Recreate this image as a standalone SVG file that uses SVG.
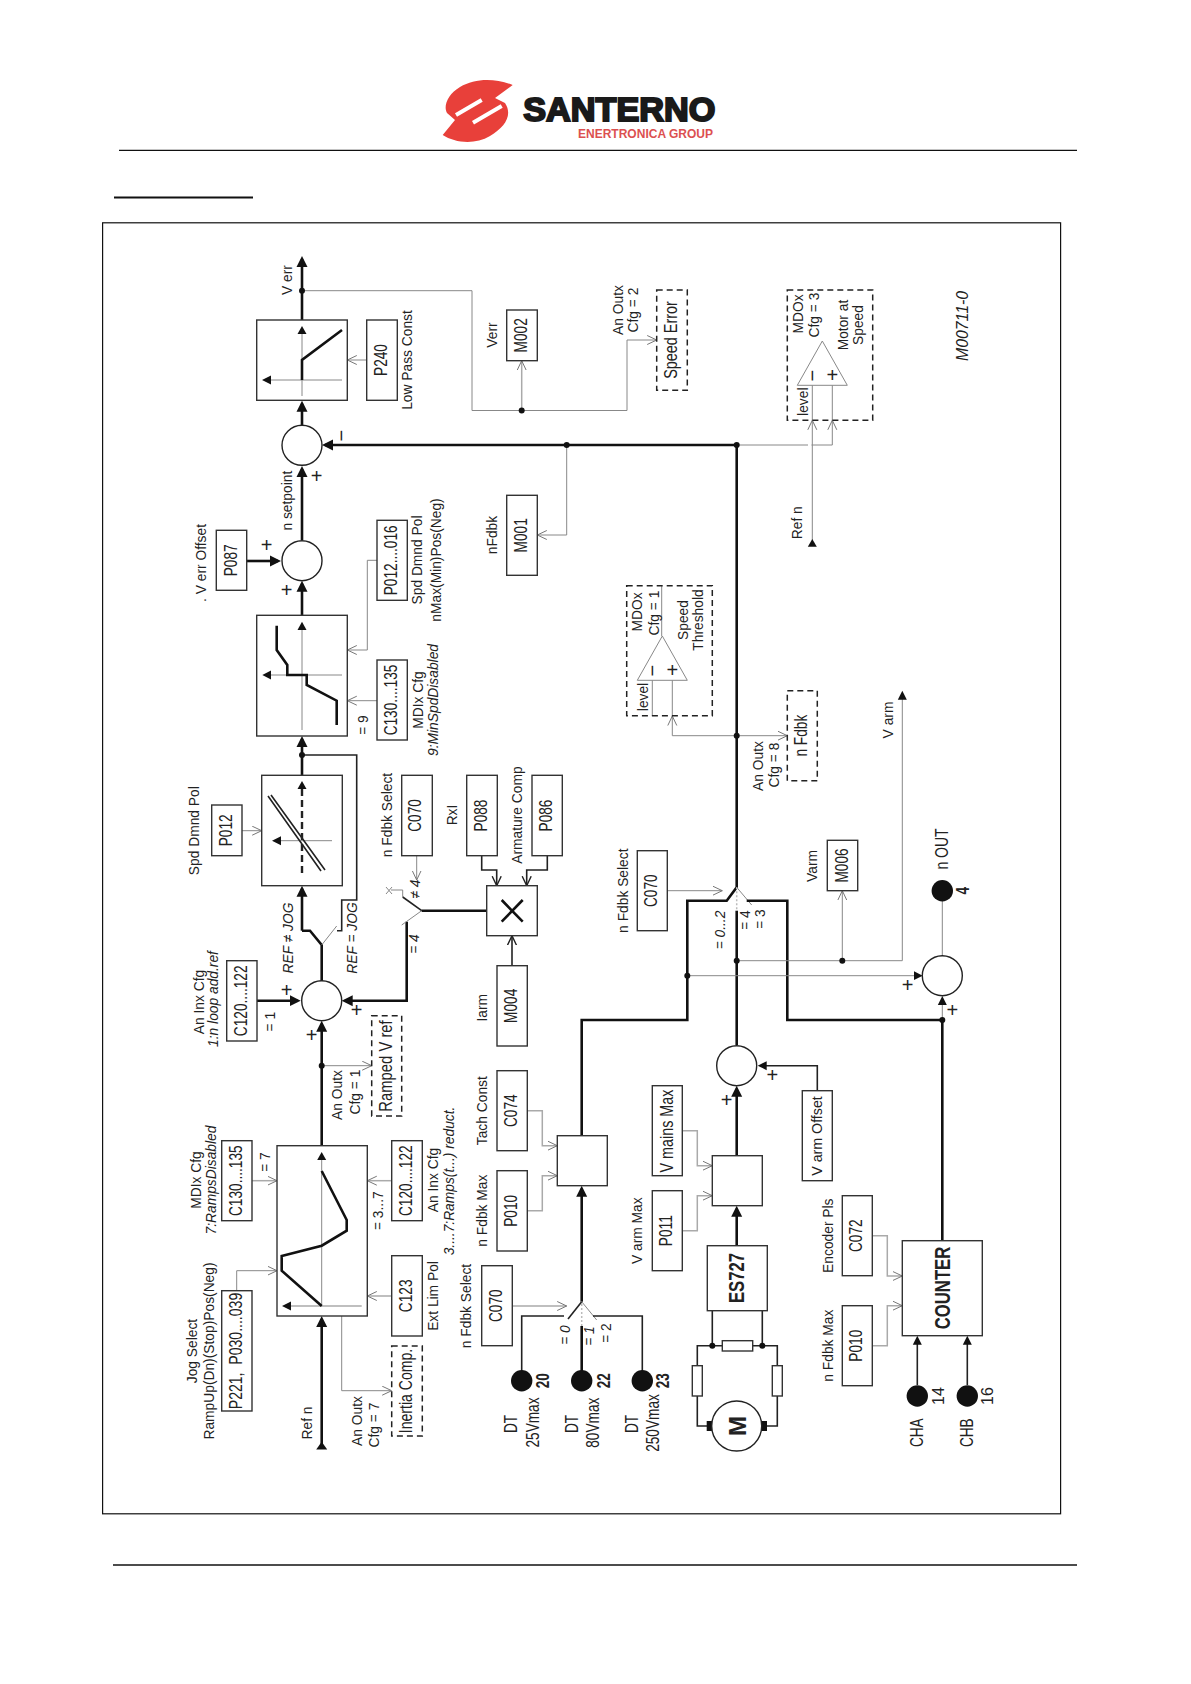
<svg xmlns="http://www.w3.org/2000/svg" width="1191" height="1684" viewBox="0 0 1191 1684">
<style>
text{font-family:"Liberation Sans",Arial,sans-serif;text-anchor:middle;fill:#222}
.l{font-size:15px}
.L{font-size:17.5px}
.v{font-size:18.5px}
.i{font-size:15px;font-style:italic}
.n{font-size:18px;font-weight:bold}
.h{font-size:22px;font-weight:bold}
.p{font-size:20px}
.box{fill:#fff;stroke:#333;stroke-width:1.4}
.dash{fill:#fff;stroke:#222;stroke-width:1.5;stroke-dasharray:6 4}
.sum{fill:#fff;stroke:#222;stroke-width:1.4}
.dot{fill:#111}
.tri{fill:#111}
path{fill:none}
.t{stroke:#111;stroke-width:2.6}
.m{stroke:#222;stroke-width:1.6}
.g{stroke:#888;stroke-width:1}
.g2{stroke:#aaa;stroke-width:1.5}
.d{stroke:#bbb;stroke-width:1.5;stroke-dasharray:2 2}
.rule{stroke:#111;stroke-width:1.4}
</style>
<defs>
<marker id="a" markerUnits="userSpaceOnUse" markerWidth="12" markerHeight="12" refX="8" refY="6" orient="auto"><path d="M0,0.5L11,6L0,11.5Z" style="fill:#111"/></marker>
<marker id="s" markerUnits="userSpaceOnUse" markerWidth="10" markerHeight="10" refX="6" refY="5" orient="auto"><path d="M0,0.5L9,5L0,9.5Z" style="fill:#111"/></marker>
<marker id="o" markerUnits="userSpaceOnUse" markerWidth="11" markerHeight="11" refX="9.5" refY="5" orient="auto"><path d="M0,0.5L9.5,5L0,9.5" style="fill:none;stroke:#777;stroke-width:1"/></marker>
<marker id="k" markerUnits="userSpaceOnUse" markerWidth="11" markerHeight="11" refX="9.5" refY="5" orient="auto"><path d="M0,0.5L9.5,5L0,9.5" style="fill:none;stroke:#222;stroke-width:1.4"/></marker>
</defs>
<rect width="1191" height="1684" fill="#fff"/>
<g id="page">
<line x1="119" y1="150.4" x2="1077" y2="150.4" class="rule"/>
<line x1="114" y1="197.6" x2="253" y2="197.6" stroke="#111" stroke-width="2"/>
<rect x="102.6" y="222.8" width="958" height="1291" fill="none" stroke="#111" stroke-width="1.2"/>
<line x1="113" y1="1565" x2="1077" y2="1565" class="rule"/>
</g>
<g id="logo">
<path d="M512.7,85C495,78 475,78 460,87C448,94 443,106 447,113L455,120L442.7,135C455,143 475,145 490,136C505,127 513,115 505,103L495,98Z" style="fill:#e8403a"/>
<path d="M456,115L481.7,100M473,122.7L501.7,106" style="stroke:#fff;stroke-width:4"/>
<text x="619.3" y="120.7" font-size="33" font-weight="bold" textLength="192" lengthAdjust="spacingAndGlyphs" style="fill:#1a1a1a;stroke:#1a1a1a;stroke-width:2">SANTERNO</text>
<text x="645.5" y="138.3" font-size="13" font-weight="bold" textLength="135" lengthAdjust="spacingAndGlyphs" style="fill:#dc5050">ENERTRONICA GROUP</text>
</g>
<g id="connectors">
<path class="t" d="M302,320V259" marker-end="url(#a)"/>
<path class="t" d="M302,425V403.7" marker-end="url(#a)"/>
<path class="t" d="M736.7,445H325" marker-end="url(#a)"/>
<path class="t" d="M302,540V469" marker-end="url(#a)"/>
<path class="t" d="M246.7,561H278" marker-end="url(#a)"/>
<path class="t" d="M302,615.3V583.7" marker-end="url(#a)"/>
<path class="t" d="M302,775V739" marker-end="url(#a)"/>
<path class="m" d="M302,755H356.7V900H341.7V930.7H337"/>
<path class="t" d="M302,930.7V888.7" marker-end="url(#a)"/>
<path class="t" d="M302,930.7H310L321.7,945V981"/>
<path class="g" d="M336.7,926L321.7,945"/>
<path class="t" d="M257,1000.7H297.7" marker-end="url(#a)"/>
<path class="t" d="M406.7,921.7V1000.7H344.7" marker-end="url(#a)"/>
<path class="g" d="M401.7,925L421.7,910.7"/>
<path class="t" d="M421.7,910.7H486.7"/>
<path class="m" d="M421.7,910.7L402.7,897"/>
<path class="g" d="M402.7,897V890H391M386,887L392,894M392,887L386,894"/>
<path class="g" d="M416.7,855.7V880" marker-end="url(#o)"/>
<path class="m" d="M481.7,855.7V870H496.7V885.7" marker-end="url(#k)"/>
<path class="m" d="M547.3,855.7V870H526.7V885.7" marker-end="url(#k)"/>
<path class="m" d="M512,965.7V935.7" marker-end="url(#k)"/>
<path class="t" d="M321.7,1146V1023.7" marker-end="url(#a)"/>
<path class="g" d="M321.7,1065.7H371.7" marker-end="url(#o)"/>
<path class="t" d="M321.7,1449V1319" marker-end="url(#a)"/>
<path class="g2" d="M252,1180.7H277" marker-end="url(#o)"/>
<path class="g2" d="M391.7,1180.7H367.3" marker-end="url(#o)"/>
<path class="g2" d="M391.7,1296H367.3" marker-end="url(#o)"/>
<path class="g" d="M236.7,1290.7V1270.7H277" marker-end="url(#o)"/>
<path class="g" d="M341.7,1316V1390.7H391.7" marker-end="url(#o)"/>
<path class="g" d="M366.7,360H347.3" marker-end="url(#o)"/>
<path class="g" d="M566.7,445V535H537.3" marker-end="url(#o)"/>
<path class="g" d="M377,560.3H367.3V650H347.3" marker-end="url(#o)"/>
<path class="g" d="M377,700.7H347.3" marker-end="url(#o)"/>
<path class="g" d="M242,830.7H261.7" marker-end="url(#o)"/>
<path class="g" d="M302,290.7H472V410.5H627V340H656.7" marker-end="url(#o)"/>
<path class="g2" d="M521.7,410.5V360.7" marker-end="url(#o)"/>
<path class="m" d="M521.7,1380.7V1316H564"/>
<path class="m" d="M568,1319L581.7,1301.7"/>
<path class="t" d="M581.7,1375V1326"/>
<path class="d" d="M581.7,1326V1301.7"/>
<path class="t" d="M581.7,1301.7V1188.7" marker-end="url(#a)"/>
<path class="g" d="M581.7,1301.7L596.7,1320"/>
<path class="m" d="M642.3,1380.7V1316H593"/>
<path class="g2" d="M512.3,1306H566.7" marker-end="url(#o)"/>
<path class="g2" d="M527.3,1110.7H542.3V1145.7H557.3" marker-end="url(#o)"/>
<path class="g2" d="M527.3,1210.7H542.3V1175.7H557.3" marker-end="url(#o)"/>
<path class="t" d="M581.7,1135.7V1020H687.3V900.7H726.7L736.7,887.3V445"/>
<path class="g" d="M736.7,887.3L751.7,905"/>
<path class="t" d="M746.7,900.7H787.3V1020H942.3V1240.7"/>
<path class="d" d="M736.7,887.3V910.7"/>
<path class="t" d="M736.7,910.7V1045"/>
<path class="g" d="M942.3,1020V999" marker-end="url(#s)"/>
<path class="g" d="M942.3,955.7V901"/>
<path class="g" d="M687.3,975.7H919.7" marker-end="url(#s)"/>
<path class="g" d="M736.7,960.7H902.3V693.7" marker-end="url(#s)"/>
<path class="g" d="M842.3,960.7V890.7" marker-end="url(#o)"/>
<path class="g" d="M667.3,890.7H722.3" marker-end="url(#o)"/>
<path class="g" d="M736.7,735.7H787.3" marker-end="url(#o)"/>
<path class="g" d="M736.7,735.7H672.3V716" marker-end="url(#o)"/>
<path class="g" d="M672.3,716V680.3M652.3,716V680.3M661.7,586V636"/>
<path class="g" d="M736.7,445H808M811.5,445H832.3V420.3" marker-end="url(#o)"/>
<path class="g" d="M812.3,540V420.3" marker-end="url(#o)"/>
<path class="g" d="M812.3,420.3V385.3M832.3,420.3V385.3"/>
<path class="m" d="M817.3,1090.7V1065.7H760.7" marker-end="url(#s)"/>
<path class="t" d="M736.7,1155.7V1088.7" marker-end="url(#a)"/>
<path class="t" d="M736.7,1245.7V1208.7" marker-end="url(#a)"/>
<path class="g2" d="M682.3,1130.7H697.3V1165.7H712.3" marker-end="url(#o)"/>
<path class="g2" d="M682.3,1230.7H697.3V1195.7H712.3" marker-end="url(#o)"/>
<path class="g2" d="M872.3,1235.7H887.3V1276H902.3" marker-end="url(#o)"/>
<path class="g2" d="M872.3,1345.7H887.3V1305.7H902.3" marker-end="url(#o)"/>
<path class="m" d="M712.3,1310.7V1345.7M762.3,1310.7V1345.7M707,1426H697.3V1345.7H777.3V1426H767"/>
<path class="m" d="M917.3,1385V1338.7" marker-end="url(#s)"/>
<path class="m" d="M967.3,1385V1338.7" marker-end="url(#s)"/>
<circle class="dot" cx="302" cy="290.7" r="3"/>
<circle class="dot" cx="521.7" cy="410.5" r="3"/>
<circle class="dot" cx="566.7" cy="445" r="3"/>
<circle class="dot" cx="736.7" cy="445" r="3"/>
<circle class="dot" cx="302" cy="755" r="3"/>
<circle class="dot" cx="321.7" cy="1065.7" r="3"/>
<circle class="dot" cx="736.7" cy="735.7" r="3"/>
<circle class="dot" cx="687.3" cy="975.7" r="3"/>
<circle class="dot" cx="736.7" cy="960.7" r="3"/>
<circle class="dot" cx="842.3" cy="960.7" r="3"/>
<circle class="dot" cx="942.3" cy="1020" r="3"/>
<circle class="dot" cx="712.3" cy="1345.7" r="3"/>
<circle class="dot" cx="762.3" cy="1345.7" r="3"/>
<polygon class="tri" points="321.7,1441.7 316.2,1449.5 327.2,1449.5"/>
<polygon class="tri" points="812.3,539 807.8,546.7 816.8,546.7"/>
<text class="l" transform="matrix(0 -.92 1 0 291.7 280)">V err</text>
</g>
<g id="filter-block">
<rect class="box" x="256.7" y="320" width="90.6" height="80.3"/>
<path class="g" d="M302,334V396M271,380H342"/>
<polygon class="tri" points="302,326 297.5,334 306.5,334"/>
<polygon class="tri" points="262,380 271,375.5 271,384.5"/>
<path class="t" d="M302,380V360L342,330"/>
</g>
<g id="P240"><rect class="box" x="366.7" y="320" width="30.6" height="80.3"/>
<text class="v" transform="matrix(0 -.74 1 0 387 360)">P240</text>
<text class="l" transform="matrix(0 -.92 1 0 411.7 360)">Low Pass Const</text></g>
<g id="M002"><rect class="box" x="506.7" y="310" width="30.6" height="50.7"/>
<text class="v" transform="matrix(0 -.74 1 0 527 335.3)">M002</text>
<text class="l" transform="matrix(0 -.92 1 0 497 335)">Verr</text></g>
<g id="M001"><rect class="box" x="506.7" y="495.3" width="30.6" height="80"/>
<text class="v" transform="matrix(0 -.74 1 0 527 535.3)">M001</text>
<text class="l" transform="matrix(0 -.92 1 0 497 535)">nFdbk</text></g>
<g id="sum-1"><circle class="sum" cx="302" cy="445.3" r="20"/>
<text class="p" transform="matrix(0 -1 1 0 348 435.7)">−</text>
<text class="p" x="316.7" y="482.6">+</text>
<text class="l" transform="matrix(0 -.92 1 0 292 500.7)">n setpoint</text></g>
<g id="sum-2"><circle class="sum" cx="302" cy="560.7" r="20"/>
<text class="p" x="266.7" y="552">+</text>
<text class="p" x="286.7" y="597.3">+</text></g>
<g id="P087"><rect class="box" x="216.3" y="530.3" width="30.4" height="60"/>
<text class="v" transform="matrix(0 -.74 1 0 237 560.3)">P087</text>
<text class="l" transform="matrix(0 -.92 1 0 206 563)">. V err Offset</text></g>
<g id="P012-016"><rect class="box" x="377" y="520.3" width="30.3" height="80"/>
<text class="v" transform="matrix(0 -.74 1 0 397 560.3)">P012....016</text>
<text class="l" transform="matrix(0 -.92 1 0 421.7 560)">Spd Dmnd Pol</text>
<text class="l" transform="matrix(0 -.92 1 0 440.7 560)">nMax(Min)Pos(Neg)</text></g>
<g id="min-speed-block">
<rect class="box" x="256.7" y="615.3" width="90.6" height="120.7"/>
<path class="g" d="M302,630V730M270,675H342"/>
<polygon class="tri" points="302,621.7 297.5,630 306.5,630"/>
<polygon class="tri" points="262.3,675 271,670.5 271,679.5"/>
<path class="t" d="M276.7,625.7V650L287.3,665V675H306.7V685L336.7,700.7V725"/>
</g>
<g id="C130-135-a"><rect class="box" x="377" y="660" width="30.3" height="80"/>
<text class="v" transform="matrix(0 -.74 1 0 397 700)">C130....135</text>
<text class="l" transform="matrix(0 -.92 1 0 368 725)">= 9</text>
<text class="l" transform="matrix(0 -.92 1 0 423 700)">MDIx Cfg</text>
<text class="i" transform="matrix(0 -.92 1 0 438 700)">9:MinSpdDisabled</text></g>
<g id="pol-block">
<rect class="box" x="261.7" y="775.3" width="80.6" height="110.4"/>
<path class="g" d="M281,840.7H332"/>
<path class="m" d="M302,789V875" style="stroke-width:2.4;stroke-dasharray:7 4"/>
<polygon class="tri" points="302,781 297.5,789 306.5,789"/>
<polygon class="tri" points="272,840.7 281,836.2 281,845.2"/>
<path class="m" d="M268,796L321,871M271,795L325,870"/>
</g>
<g id="P012"><rect class="box" x="211.7" y="805" width="30.3" height="50.7"/>
<text class="v" transform="matrix(0 -.74 1 0 232 830.3)">P012</text>
<text class="l" transform="matrix(0 -.92 1 0 199.3 830.7)">Spd Dmnd Pol</text></g>
<g id="jog-switch">
<text class="i" transform="matrix(0 -.92 1 0 293 938)">REF ≠ JOG</text>
<text class="i" transform="matrix(0 -.92 1 0 356.7 938)">REF = JOG</text></g>
<g id="sum-3"><circle class="sum" cx="321.7" cy="1000.7" r="20"/>
<text class="p" x="286.7" y="997.3">+</text>
<text class="p" x="356.7" y="1017.3">+</text>
<text class="p" x="311.7" y="1041.6">+</text></g>
<g id="C120-122-a"><rect class="box" x="226.7" y="960.7" width="30.3" height="80.3"/>
<text class="v" transform="matrix(0 -.74 1 0 247 1000.8)">C120....122</text>
<text class="l" transform="matrix(0 -.92 1 0 204 1002)">An Inx Cfg</text>
<text class="i" transform="matrix(0 -.92 1 0 218 999)">1:n loop add.ref</text>
<text class="l" transform="matrix(0 -.92 1 0 275 1021.7)">= 1</text></g>
<g id="C070-a"><rect class="box" x="401.7" y="775.3" width="30.6" height="80.4"/>
<text class="v" transform="matrix(0 -.74 1 0 421 815.5)">C070</text>
<text class="l" transform="matrix(0 -.92 1 0 391.7 815)">n Fdbk Select</text>
<text class="i" transform="matrix(0 -.92 1 0 420 889)">≠ 4</text>
<text class="i" transform="matrix(0 -.92 1 0 419 944)">= 4</text></g>
<g id="mult"><rect class="box" x="486.7" y="885.7" width="50.6" height="50"/>
<path class="t" d="M501.7,900L522.7,921.7M522.7,900L501.7,921.7"/></g>
<g id="P088"><rect class="box" x="466.7" y="775.3" width="30.6" height="80.4"/>
<text class="v" transform="matrix(0 -.74 1 0 487 815.5)">P088</text>
<text class="l" transform="matrix(0 -.92 1 0 456.7 815)">RxI</text></g>
<g id="P086"><rect class="box" x="532" y="775.3" width="30.3" height="80.4"/>
<text class="v" transform="matrix(0 -.74 1 0 552 815.5)">P086</text>
<text class="l" transform="matrix(0 -.92 1 0 521.7 815)">Armature Comp</text></g>
<g id="M004"><rect class="box" x="497" y="965.7" width="30.3" height="80.3"/>
<text class="v" transform="matrix(0 -.74 1 0 517 1005.8)">M004</text>
<text class="l" transform="matrix(0 -.92 1 0 486.7 1007.7)">Iarm</text></g>
<g id="ramped-v-ref"><rect class="dash" x="371.7" y="1015.7" width="30" height="100.3"/>
<text class="v" transform="matrix(0 -.8 1 0 392 1066)">Ramped V ref</text>
<text class="l" transform="matrix(0 -.92 1 0 341.7 1095)">An Outx</text>
<text class="l" transform="matrix(0 -.92 1 0 360 1092)">Cfg = 1</text></g>
<g id="ramp-block">
<rect class="box" x="277" y="1145.7" width="90.3" height="170.3"/>
<path class="g" d="M321.7,1160V1306"/>
<path class="g2" d="M290,1306H361.7"/>
<polygon class="tri" points="321.7,1152 317.2,1160 326.2,1160"/>
<polygon class="tri" points="282,1306 291,1301.5 291,1310.5"/>
<path class="t" d="M321.7,1171L346.7,1220V1230.7L321.7,1245.7L281.7,1256V1270.7L321.7,1306"/>
</g>
<g id="C130-135-b"><rect class="box" x="221.7" y="1140.7" width="30.3" height="80"/>
<text class="v" transform="matrix(0 -.74 1 0 242 1180.7)">C130....135</text>
<text class="l" transform="matrix(0 -.92 1 0 270 1162)">= 7</text>
<text class="l" transform="matrix(0 -.92 1 0 200.7 1180)">MDIx Cfg</text>
<text class="i" transform="matrix(0 -.92 1 0 216 1180)">7:RampsDisabled</text></g>
<g id="P221-P030"><rect class="box" x="221.7" y="1290.7" width="30.3" height="120.3"/>
<text class="v" transform="matrix(0 -.76 1 0 242 1351)" xml:space="preserve">P221,  P030....039</text>
<text class="l" transform="matrix(0 -.92 1 0 197.3 1351)">Jog Select</text>
<text class="l" transform="matrix(0 -.92 1 0 214.3 1351)">RampUp(Dn)(Stop)Pos(Neg)</text></g>
<g id="C120-122-b"><rect class="box" x="391.7" y="1140.7" width="30.6" height="80"/>
<text class="v" transform="matrix(0 -.74 1 0 412 1180.7)">C120....122</text>
<text class="l" transform="matrix(0 -.92 1 0 383.3 1210.7)">= 3...7</text>
<text class="l" transform="matrix(0 -.92 1 0 437.7 1180)">An Inx Cfg</text>
<text class="i" transform="matrix(0 -.92 1 0 454 1181)">3....7:Ramps(t...) reduct.</text></g>
<g id="C123"><rect class="box" x="391.7" y="1255.7" width="30.6" height="80.3"/>
<text class="v" transform="matrix(0 -.74 1 0 412 1295.8)">C123</text>
<text class="l" transform="matrix(0 -.92 1 0 437.7 1296)">Ext Lim Pol</text></g>
<g id="inertia-comp"><rect class="dash" x="391.7" y="1346" width="30.6" height="90"/>
<text class="v" transform="matrix(0 -.76 1 0 412 1391)">Inertia Comp.</text>
<text class="l" transform="matrix(0 -.92 1 0 361.7 1421)">An Outx</text>
<text class="l" transform="matrix(0 -.92 1 0 379 1425)">Cfg = 7</text></g>
<g id="ref-n-a"><text class="l" transform="matrix(0 -.92 1 0 312.3 1423)">Ref n</text></g>
<g id="C070-b"><rect class="box" x="481.7" y="1265.7" width="30.6" height="80"/>
<text class="v" transform="matrix(0 -.74 1 0 502 1305.7)">C070</text>
<text class="l" transform="matrix(0 -.92 1 0 471 1306)">n Fdbk Select</text>
<text class="i" transform="matrix(0 -.92 1 0 570 1335)">= 0</text>
<text class="i" transform="matrix(0 -.92 1 0 594 1336)">= 1</text>
<text class="l" transform="matrix(0 -.92 1 0 610.7 1333)">= 2</text></g>
<g id="term-20"><circle class="dot" cx="521.7" cy="1380.7" r="10.7"/>
<text class="n" transform="matrix(0 -.75 1 0 549 1380.7)">20</text>
<text class="L" transform="matrix(0 -.78 1 0 517.3 1424)">DT</text>
<text class="L" transform="matrix(0 -.78 1 0 539.3 1422.5)">25Vmax</text></g>
<g id="term-22"><circle class="dot" cx="581.7" cy="1380.7" r="10.7"/>
<text class="n" transform="matrix(0 -.75 1 0 610 1380.7)">22</text>
<text class="L" transform="matrix(0 -.78 1 0 578 1424)">DT</text>
<text class="L" transform="matrix(0 -.78 1 0 599 1422.7)">80Vmax</text></g>
<g id="term-23"><circle class="dot" cx="642.3" cy="1380.7" r="10.7"/>
<text class="n" transform="matrix(0 -.75 1 0 669.3 1380.7)">23</text>
<text class="L" transform="matrix(0 -.78 1 0 638.3 1424)">DT</text>
<text class="L" transform="matrix(0 -.78 1 0 659 1423)">250Vmax</text></g>
<g id="C074"><rect class="box" x="497" y="1070.7" width="30.3" height="80"/>
<text class="v" transform="matrix(0 -.74 1 0 517 1110.7)">C074</text>
<text class="l" transform="matrix(0 -.92 1 0 487.3 1110.7)">Tach Const</text></g>
<g id="P010-a"><rect class="box" x="497" y="1170.7" width="30.3" height="80.3"/>
<text class="v" transform="matrix(0 -.74 1 0 517 1210.8)">P010</text>
<text class="l" transform="matrix(0 -.92 1 0 487.3 1210.7)">n Fdbk Max</text></g>
<g id="tach-block"><rect class="box" x="557.3" y="1135.7" width="50" height="50"/></g>
<g id="C070-c"><rect class="box" x="637.3" y="850.7" width="30" height="80"/>
<text class="v" transform="matrix(0 -.74 1 0 657 890.7)">C070</text>
<text class="l" transform="matrix(0 -.92 1 0 627.7 890.7)">n Fdbk Select</text>
<text class="i" transform="matrix(0 -.92 1 0 725 930)">= 0...2</text>
<text class="l" transform="matrix(0 -.92 1 0 750 920)">= 4</text>
<text class="l" transform="matrix(0 -.92 1 0 765.3 919)">= 3</text></g>
<g id="n-fdbk"><rect class="dash" x="787.3" y="690.7" width="30" height="90"/>
<text class="v" transform="matrix(0 -.74 1 0 807 735.7)">n Fdbk</text>
<text class="l" transform="matrix(0 -.92 1 0 762.7 766)">An Outx</text>
<text class="l" transform="matrix(0 -.92 1 0 779 765)">Cfg = 8</text></g>
<g id="M006"><rect class="box" x="827.3" y="840.3" width="30.4" height="50.4"/>
<text class="v" transform="matrix(0 -.74 1 0 847.5 865.5)">M006</text>
<text class="l" transform="matrix(0 -.92 1 0 817.3 866)">Varm</text>
<text class="l" transform="matrix(0 -.92 1 0 892.7 720)">V arm</text></g>
<g id="sum-4"><circle class="sum" cx="942.3" cy="975.7" r="20"/>
<text class="p" x="907.7" y="992.3">+</text>
<text class="p" x="952.3" y="1017.3">+</text></g>
<g id="n-out"><circle class="dot" cx="942.3" cy="890.7" r="10.7"/>
<text class="L" transform="matrix(0 -.8 1 0 948.3 849)">n OUT</text>
<text class="n" transform="matrix(0 -.75 1 0 969 890.7)">4</text></g>
<g id="sum-5"><circle class="sum" cx="736.7" cy="1065.7" r="20"/>
<text class="p" x="726.7" y="1107.3">+</text>
<text class="p" x="772.3" y="1082.3">+</text></g>
<g id="V-arm-offset"><rect class="box" x="802.3" y="1090.7" width="30" height="90"/>
<text class="l" transform="matrix(0 -.95 1 0 822 1136)">V arm Offset</text></g>
<g id="V-mains-max"><rect class="box" x="652.3" y="1085.7" width="30" height="90"/>
<text class="L" transform="matrix(0 -.82 1 0 673 1131)">V mains Max</text></g>
<g id="P011"><rect class="box" x="652.3" y="1190.7" width="30" height="80"/>
<text class="v" transform="matrix(0 -.74 1 0 672 1230.7)">P011</text>
<text class="l" transform="matrix(0 -.92 1 0 642.3 1230.7)">V arm Max</text></g>
<g id="varm-block"><rect class="box" x="712.3" y="1155.7" width="50" height="50"/></g>
<g id="ES727"><rect class="box" x="707.3" y="1245.7" width="60" height="65"/>
<text class="h" transform="matrix(0 -.76 1 0 744 1278)">ES727</text></g>
<g id="motor">
<rect class="box" x="722.3" y="1340.7" width="30.4" height="10.3"/>
<rect class="box" x="692.3" y="1365.7" width="10" height="30.3"/>
<rect class="box" x="772.3" y="1365.7" width="10" height="30.3"/>
<rect class="tri" x="706.7" y="1421" width="6" height="10"/>
<rect class="tri" x="761" y="1421" width="6" height="10"/>
<circle class="sum" cx="736.7" cy="1426" r="25"/>
<text class="h" transform="matrix(0 -1 1 0 745.7 1426)" style="font-size:24px">M</text></g>
<g id="C072"><rect class="box" x="842.3" y="1195.7" width="30" height="80"/>
<text class="v" transform="matrix(0 -.74 1 0 862 1235.7)">C072</text>
<text class="l" transform="matrix(0 -.92 1 0 832.7 1235.7)">Encoder Pls</text></g>
<g id="P010-b"><rect class="box" x="842.3" y="1305.7" width="30" height="80"/>
<text class="v" transform="matrix(0 -.74 1 0 862 1345.7)">P010</text>
<text class="l" transform="matrix(0 -.92 1 0 832.7 1345.7)">n Fdbk Max</text></g>
<g id="counter"><rect class="box" x="902.3" y="1240.7" width="80" height="95"/>
<text class="h" transform="matrix(0 -.76 1 0 950 1288)">COUNTER</text></g>
<g id="CHA"><circle class="dot" cx="917.3" cy="1396" r="10.7"/>
<text class="l" transform="matrix(0 -1 1 0 944 1396)" style="font-size:16px">14</text>
<text class="L" transform="matrix(0 -.78 1 0 922.7 1432.7)">CHA</text></g>
<g id="CHB"><circle class="dot" cx="967.3" cy="1396" r="10.7"/>
<text class="l" transform="matrix(0 -1 1 0 993.3 1396)" style="font-size:16px">16</text>
<text class="L" transform="matrix(0 -.78 1 0 972.7 1432.7)">CHB</text></g>
<g id="speed-error"><rect class="dash" x="656.7" y="290" width="30.6" height="100.3"/>
<text class="v" transform="matrix(0 -.78 1 0 677 340)">Speed Error</text>
<text class="l" transform="matrix(0 -.92 1 0 622.7 310)">An Outx</text>
<text class="l" transform="matrix(0 -.92 1 0 638.3 310)">Cfg = 2</text></g>
<g id="MDOx-3"><rect class="dash" x="787.3" y="290" width="85.4" height="130.3" style="fill:none"/>
<path class="g" d="M822.3,341L797.3,385.3H847.3Z"/>
<text class="p" transform="matrix(0 -1 1 0 818.9 375.7)">−</text>
<text class="p" x="832.3" y="382.3">+</text>
<text class="l" transform="matrix(0 -.92 1 0 802.7 314)">MDOx</text>
<text class="l" transform="matrix(0 -.92 1 0 819 315)">Cfg = 3</text>
<text class="l" transform="matrix(0 -.92 1 0 807.7 401.7)">level</text>
<text class="l" transform="matrix(0 -.92 1 0 847.7 325)">Motor at</text>
<text class="l" transform="matrix(0 -.92 1 0 863.3 325)">Speed</text>
<text class="l" transform="matrix(0 -.92 1 0 801.7 522.7)">Ref n</text></g>
<g id="MDOx-1"><rect class="dash" x="626.7" y="585.7" width="85.6" height="130" style="fill:none"/>
<path class="g" d="M662.3,636L637.3,680.3H687.3Z"/>
<text class="p" transform="matrix(0 -1 1 0 658.9 670.7)">−</text>
<text class="p" x="672.3" y="677.3">+</text>
<text class="l" transform="matrix(0 -.92 1 0 642.3 612)">MDOx</text>
<text class="l" transform="matrix(0 -.92 1 0 658.5 613)">Cfg = 1</text>
<text class="l" transform="matrix(0 -.92 1 0 647.7 697)">level</text>
<text class="l" transform="matrix(0 -.92 1 0 687.7 620)">Speed</text>
<text class="l" transform="matrix(0 -.92 1 0 703.3 620)">Threshold</text></g>
<g id="code"><text class="i" transform="matrix(0 -.97 1 0 968.3 326)" style="font-size:16.3px">M00711-0</text></g>
</svg>
